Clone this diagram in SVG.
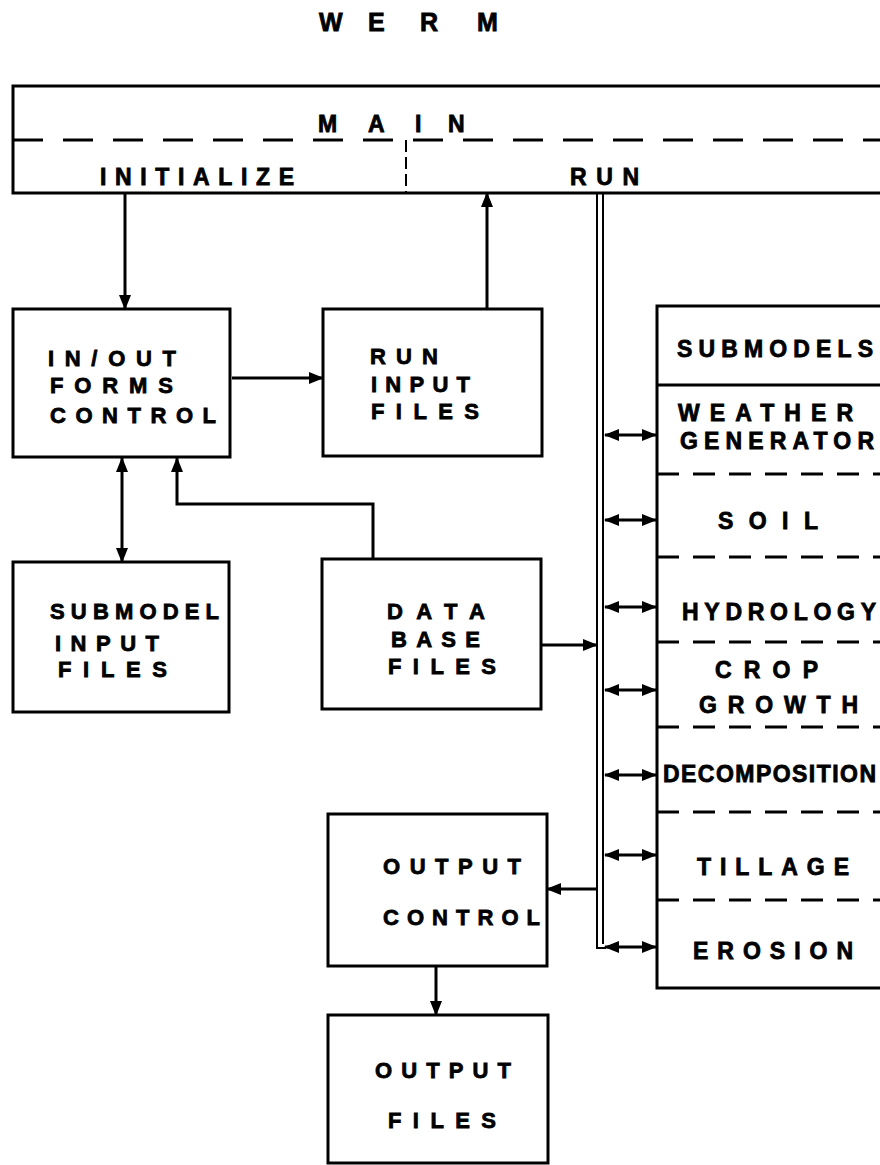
<svg xmlns="http://www.w3.org/2000/svg" width="880" height="1165" viewBox="0 0 880 1165">
<style>
.box{fill:none;stroke:#000;stroke-width:3}
.ln{fill:none;stroke:#000;stroke-width:3}
.bus{fill:none;stroke:#000;stroke-width:2}
.dash{fill:none;stroke:#000;stroke-width:3;stroke-dasharray:30 20}
.sdash{fill:none;stroke:#000;stroke-width:3;stroke-dasharray:22 14}
.vdash{fill:none;stroke:#000;stroke-width:2;stroke-dasharray:12 5}
text{font-family:"Liberation Sans",Arial,sans-serif;font-weight:bold;fill:#000;stroke:#000;stroke-width:0.8}
.t{font-size:22px}
.s{font-size:23px}
</style>
<defs>
<marker id="ah" markerUnits="userSpaceOnUse" markerWidth="16" markerHeight="12" refX="14" refY="6" orient="auto-start-reverse">
<path d="M0,0 L15,6 L0,12 Z" fill="#000"/>
</marker>
</defs>

<text x="319 345 368 392 420 450 477" y="31" font-size="25">W E R M</text>

<g id="main">
<path class="box" d="M895 86 H13 V193 H895"/>
<line class="dash" x1="13" y1="140" x2="880" y2="140"/>
<line class="vdash" x1="406" y1="140" x2="406" y2="193"/>
<text x="318 340 368 392 415 430 448" y="132" font-size="23">M A I N</text>
<text class="s" x="100" y="185" textLength="194" lengthAdjust="spacing">INITIALIZE</text>
<text class="s" x="570" y="185" textLength="69" lengthAdjust="spacing">RUN</text>
</g>

<g id="inout">
<rect class="box" x="13" y="309" width="217" height="148"/>
<text class="t" x="48" y="366" textLength="128" lengthAdjust="spacing">IN/OUT</text>
<text class="t" x="50" y="393" textLength="123" lengthAdjust="spacing">FORMS</text>
<text class="t" x="50" y="423" textLength="166" lengthAdjust="spacing">CONTROL</text>
</g>

<g id="runinput">
<rect class="box" x="323" y="309" width="219" height="147"/>
<text class="t" x="370" y="364" textLength="68" lengthAdjust="spacing">RUN</text>
<text class="t" x="371" y="392" textLength="99" lengthAdjust="spacing">INPUT</text>
<text class="t" x="371" y="419" textLength="108" lengthAdjust="spacing">FILES</text>
</g>

<g id="submodelinput">
<rect class="box" x="13" y="562" width="216" height="150"/>
<text class="t" x="50" y="619" textLength="169" lengthAdjust="spacing">SUBMODEL</text>
<text class="t" x="55" y="651" textLength="104" lengthAdjust="spacing">INPUT</text>
<text class="t" x="58" y="677" textLength="109" lengthAdjust="spacing">FILES</text>
</g>

<g id="database">
<rect class="box" x="322" y="559" width="219" height="150"/>
<text class="t" x="387" y="619" textLength="98" lengthAdjust="spacing">DATA</text>
<text class="t" x="391" y="647" textLength="89" lengthAdjust="spacing">BASE</text>
<text class="t" x="388" y="674" textLength="108" lengthAdjust="spacing">FILES</text>
</g>

<g id="outputcontrol">
<rect class="box" x="328" y="814" width="219" height="152"/>
<text class="t" x="383" y="874" textLength="138" lengthAdjust="spacing">OUTPUT</text>
<text class="t" x="383" y="925" textLength="157" lengthAdjust="spacing">CONTROL</text>
</g>

<g id="outputfiles">
<rect class="box" x="328" y="1015" width="220" height="148"/>
<text class="t" x="375" y="1078" textLength="136" lengthAdjust="spacing">OUTPUT</text>
<text class="t" x="388" y="1128" textLength="108" lengthAdjust="spacing">FILES</text>
</g>

<g id="submodels">
<path class="box" d="M895 306 H657 V988 H895"/>
<line class="ln" x1="657" y1="385" x2="880" y2="385"/>
<line class="sdash" x1="657" y1="474" x2="880" y2="474"/>
<line class="sdash" x1="657" y1="557" x2="880" y2="557"/>
<line class="sdash" x1="657" y1="642" x2="880" y2="642"/>
<line class="sdash" x1="657" y1="727" x2="880" y2="727"/>
<line class="sdash" x1="657" y1="812" x2="880" y2="812"/>
<line class="sdash" x1="657" y1="900" x2="880" y2="900"/>
<text class="s" x="677" y="357" textLength="196" lengthAdjust="spacing">SUBMODELS</text>
<text class="s" x="678" y="421" textLength="175" lengthAdjust="spacing">WEATHER</text>
<text class="s" x="680" y="449" textLength="194" lengthAdjust="spacing">GENERATOR</text>
<text class="s" x="718" y="529" textLength="100" lengthAdjust="spacing">SOIL</text>
<text class="s" x="682" y="620" textLength="194" lengthAdjust="spacing">HYDROLOGY</text>
<text class="s" x="715" y="678" textLength="103" lengthAdjust="spacing">CROP</text>
<text class="s" x="699" y="713" textLength="159" lengthAdjust="spacing">GROWTH</text>
<text class="s" x="663" y="782" textLength="213" lengthAdjust="spacing">DECOMPOSITION</text>
<text class="s" x="697" y="875" textLength="152" lengthAdjust="spacing">TILLAGE</text>
<text class="s" x="693" y="959" textLength="160" lengthAdjust="spacing">EROSION</text>
</g>

<g id="connectors">
<line class="ln" x1="125" y1="193" x2="125" y2="309" marker-end="url(#ah)"/>
<line class="ln" x1="487" y1="309" x2="487" y2="193" marker-end="url(#ah)"/>
<line class="ln" x1="232" y1="378" x2="323" y2="378" marker-end="url(#ah)"/>
<line class="ln" x1="122" y1="458" x2="122" y2="562" marker-start="url(#ah)" marker-end="url(#ah)"/>
<path class="ln" d="M373 559 V504 H177 V458" marker-end="url(#ah)"/>
<line class="ln" x1="541" y1="645" x2="597" y2="645" marker-end="url(#ah)"/>
<line class="ln" x1="597" y1="889" x2="547" y2="889" marker-end="url(#ah)"/>
<line class="ln" x1="436" y1="966" x2="436" y2="1015" marker-end="url(#ah)"/>
<path class="bus" d="M597 194 V948 H606"/>
<line class="bus" x1="603" y1="194" x2="603" y2="944"/>
<line class="ln" x1="605" y1="435" x2="656" y2="435" marker-start="url(#ah)" marker-end="url(#ah)"/>
<line class="ln" x1="605" y1="520" x2="656" y2="520" marker-start="url(#ah)" marker-end="url(#ah)"/>
<line class="ln" x1="605" y1="607" x2="656" y2="607" marker-start="url(#ah)" marker-end="url(#ah)"/>
<line class="ln" x1="605" y1="690" x2="656" y2="690" marker-start="url(#ah)" marker-end="url(#ah)"/>
<line class="ln" x1="605" y1="775" x2="656" y2="775" marker-start="url(#ah)" marker-end="url(#ah)"/>
<line class="ln" x1="605" y1="855" x2="656" y2="855" marker-start="url(#ah)" marker-end="url(#ah)"/>
<line class="ln" x1="605" y1="947" x2="656" y2="947" marker-start="url(#ah)" marker-end="url(#ah)"/>
</g>
</svg>
